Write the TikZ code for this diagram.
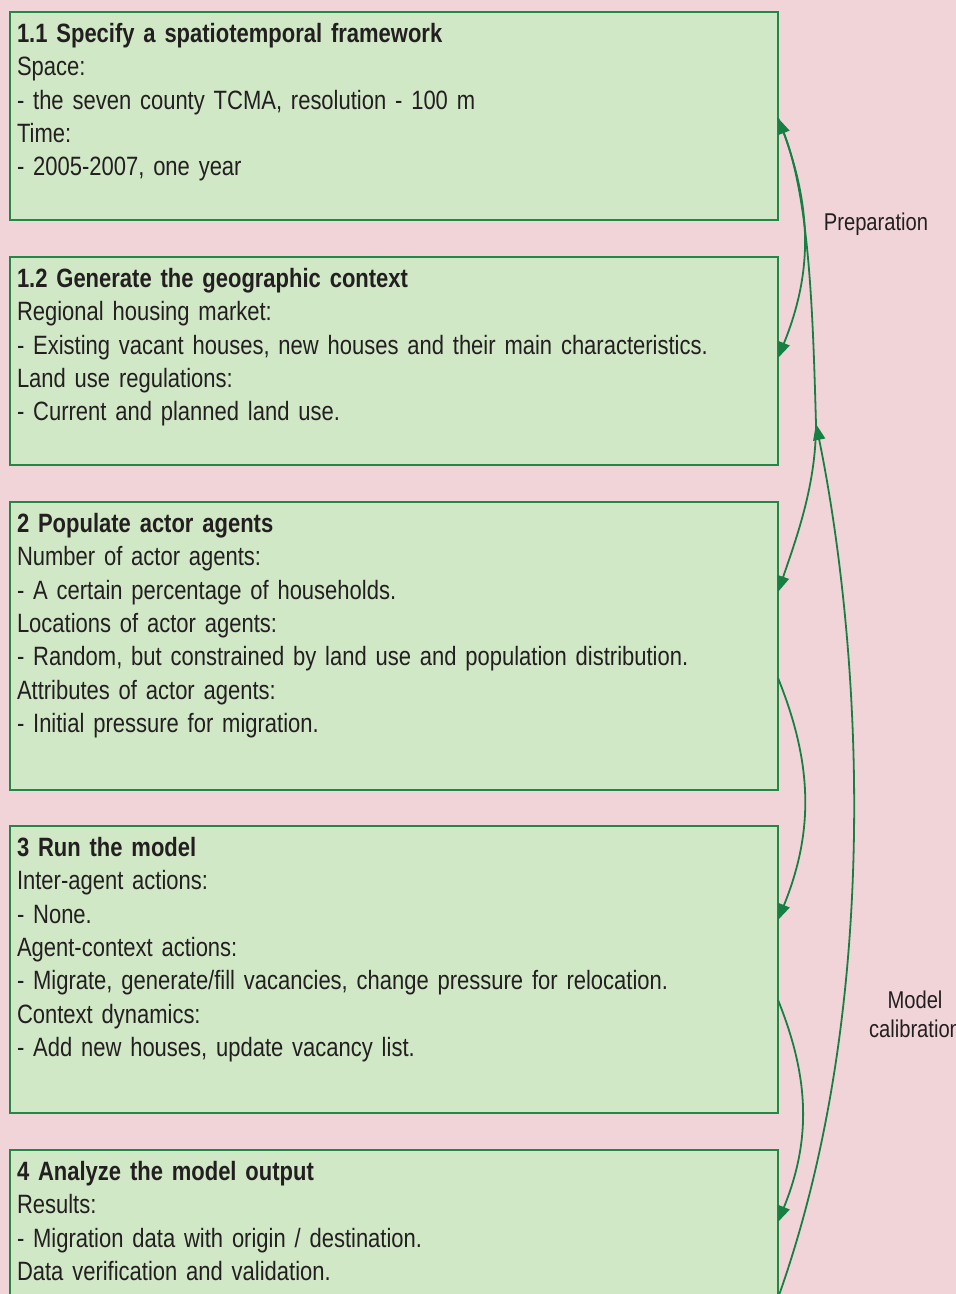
\documentclass[tikz,border=0pt]{standalone}
\usepackage{fontspec}
\setmainfont{Liberation Sans}[FakeStretch=0.83, WordSpace=0.75]
\usetikzlibrary{arrows.meta,calc,positioning}

\definecolor{bgpink}{RGB}{240,212,216}
\definecolor{boxfill}{RGB}{208,232,198}
\definecolor{boxline}{RGB}{34,136,70}
\definecolor{flowgreen}{RGB}{22,128,66}
\definecolor{inkgray}{RGB}{35,31,32}

\begin{document}
\begin{tikzpicture}[x=1pt, y=-1pt,
		stage/.style={draw=boxline, fill=boxfill, line width=1.8pt, inner xsep=7pt, inner ysep=0pt,
			outer sep=0pt, text width=754pt, align=left, text height=30.5pt, text=inkgray,
			font=\fontsize{26.5}{33.3}\selectfont},
		flow/.style={draw=flowgreen, line width=1.8pt, -{Triangle[length=16pt,width=12pt]}},
		side/.style={text=inkgray, font=\fontsize{24.3}{29}\selectfont, align=center}]
		% Page and background
		\useasboundingbox (0,0) rectangle (956,1294);
		\fill[bgpink] (0,0) rectangle (956,1294);
		% Draw the stage boxes
		\node[stage, text depth=177.5pt, anchor=north west] (b1) at (10,12) {\textbf{1.1 Specify a spatiotemporal framework}\\
			Space:\\
			- the seven county TCMA, resolution - 100 m\\
			Time:\\
			- 2005-2007, one year};
		\node[stage, text depth=177.5pt, below=37pt of b1] (b2) {\textbf{1.2 Generate the geographic context}\\
			Regional housing market:\\
			- Existing vacant houses, new houses and their main characteristics.\\
			Land use regulations:\\
			- Current and planned land use.};
		\node[stage, text depth=257.5pt, below=37pt of b2] (b3) {\textbf{2 Populate actor agents}\\
			Number of actor agents:\\
			- A certain percentage of households.\\
			Locations of actor agents:\\
			- Random, but constrained by land use and population distribution.\\
			Attributes of actor agents:\\
			- Initial pressure for migration.};
		\node[stage, text depth=256.5pt, below=36pt of b3] (b4) {\textbf{3 Run the model}\\
			Inter-agent actions:\\
			- None.\\
			Agent-context actions:\\
			- Migrate, generate/fill vacancies, change pressure for relocation.\\
			Context dynamics:\\
			- Add new houses, update vacancy list.};
		\node[stage, text depth=230pt, below=37pt of b4] (b5) {\textbf{4 Analyze the model output}\\
			Results:\\
			- Migration data with origin / destination.\\
			Data verification and validation.};
		% Connector end points on the right edges
		\coordinate (b1in) at ($(b1.north east)+(0,106)$);
		\coordinate (b2in) at ($(b2.north east)+(0,101)$);
		\coordinate (b3in) at ($(b3.north east)+(0,90)$);
		\coordinate (b3out) at ($(b3.north east)+(0,176)$);
		\coordinate (b4in) at ($(b4.north east)+(0,94)$);
		\coordinate (b4out) at ($(b4.north east)+(0,174)$);
		\coordinate (b5in) at ($(b5.north east)+(0,72)$);
		\coordinate (b5out) at ($(b5.north east)+(0,148)$);
		\coordinate (hub) at (816,424);
		% Arrows between stages
		\draw[flow] (hub) .. controls +(-3,-104) and +(32,82) .. (b1in);
		\draw[flow] (b1in) to[bend left=22] (b2in);
		\draw[flow] (hub) .. controls +(0,60) and +(19.5,-57) .. (b3in);
		\draw[flow] (b3out) to[bend left=22] (b4in);
		\draw[flow] (b4out) to[bend left=22] (b5in);
		\draw[flow] (b5out) .. controls +(107,-300) and +(44,216) .. (hub);
		% Side labels
		\node[side] (prep) at (876,224) {Preparation};
		\node[side] (calib) at (915,1014) {Model\\calibration};
\end{tikzpicture}
\end{document}
